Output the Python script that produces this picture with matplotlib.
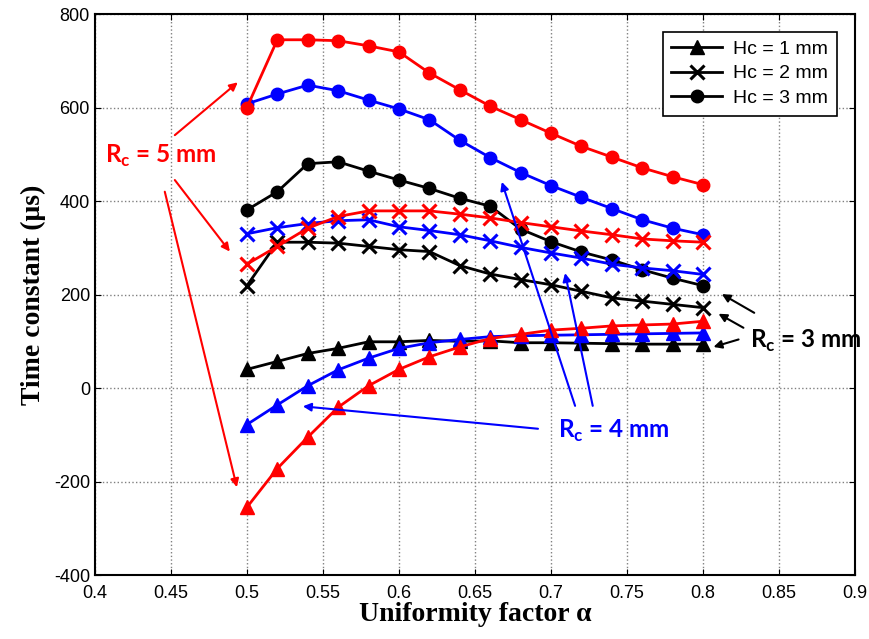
import numpy as np
import matplotlib
matplotlib.use('Agg')
import matplotlib.pyplot as plt

plt.rcParams['font.family'] = ['Liberation Sans', 'DejaVu Sans']
plt.rcParams['mathtext.fontset'] = 'custom'
plt.rcParams['mathtext.bf'] = 'Lato:bold'
plt.rcParams['mathtext.rm'] = 'Lato:bold'
plt.rcParams['axes.unicode_minus'] = False

# Factor de uniformidad
alpha = [0.50, 0.52, 0.54, 0.56, 0.58, 0.60, 0.62, 0.64,
         0.66, 0.68, 0.70, 0.72, 0.74, 0.76, 0.78, 0.80]

# Rc = 3 mm (negro)
rc3_h1 = [40, 57, 74, 85, 99, 99, 102, 100, 101, 97, 97, 96, 95, 94, 94, 94]
rc3_h2 = [219, 312, 312, 310, 303, 296, 292, 262, 244, 232, 221, 207, 193, 186, 179, 172]
rc3_h3 = [381, 420, 480, 484, 464, 445, 427, 406, 389, 340, 313, 291, 274, 253, 235, 219]

# Rc = 4 mm (azul)
rc4_h1 = [-78, -36, 5, 39, 64, 85, 97, 104, 110, 112, 113, 114, 115, 116, 117, 118]
rc4_h2 = [330, 343, 352, 358, 360, 345, 337, 328, 315, 301, 289, 278, 265, 257, 251, 243]
rc4_h3 = [608, 629, 648, 636, 616, 597, 574, 530, 493, 461, 433, 408, 384, 360, 342, 328]

# Rc = 5 mm (rojo)
rc5_h1 = [-255, -172, -105, -41, 5, 40, 67, 88, 106, 115, 124, 128, 133, 135, 137, 143]
rc5_h2 = [265, 303, 342, 367, 379, 379, 379, 372, 364, 354, 345, 336, 328, 319, 315, 312]
rc5_h3 = [600, 745, 745, 743, 732, 719, 674, 638, 603, 574, 545, 517, 494, 471, 452, 435]

fig = plt.figure(figsize=(8.7, 6.39), dpi=100)
ax = fig.add_axes([0.109, 0.100, 0.874, 0.878])

series = [
    ('k', rc3_h1, rc3_h2, rc3_h3),
    ('b', rc4_h1, rc4_h2, rc4_h3),
    ('r', rc5_h1, rc5_h2, rc5_h3),
]
for color, h1, h2, h3 in series:
    ax.plot(alpha, h1, '-^', color=color, lw=2.0, ms=10.5)
    ax.plot(alpha, h2, '-x', color=color, lw=2.0, ms=10, mew=2.2)
    ax.plot(alpha, h3, '-o', color=color, lw=2.0, ms=9)

# Leyenda (solo negro)
l1, = ax.plot([], [], 'k-^', lw=2.0, ms=10.5)
l2, = ax.plot([], [], 'k-x', lw=2.0, ms=10, mew=2.2)
l3, = ax.plot([], [], 'k-o', lw=2.0, ms=9)
leg = ax.legend([l1, l2, l3], ['Hc = 1 mm', 'Hc = 2 mm', 'Hc = 3 mm'],
                loc='upper right', bbox_to_anchor=(0.989, 0.986), fontsize=14,
                fancybox=False, framealpha=1, edgecolor='k', handlelength=2.6,
                borderpad=0.45, labelspacing=0.35, handletextpad=0.6)
leg.get_frame().set_linewidth(1.2)

ax.set_xlim(0.4, 0.9)
ax.set_ylim(-400, 800)
ax.set_xticks(np.arange(0.4, 0.91, 0.05))
ax.set_xticklabels(['0.4', '0.45', '0.5', '0.55', '0.6', '0.65', '0.7',
                    '0.75', '0.8', '0.85', '0.9'])
ax.set_yticks(np.arange(-400, 801, 200))
ax.tick_params(direction='in', top=True, right=True, labelsize=13, length=4)
ax.tick_params(axis='x', pad=7)
for lab in ax.get_xticklabels():
    lab.set_fontsize(13)
    lab.set_stretch('condensed')
ax.grid(True, color='#808080', ls=':', lw=1.0)
for s in ax.spines.values():
    s.set_linewidth(1.5)

ax.set_xlabel('Uniformity factor α', family='Liberation Serif', fontweight='bold',
              fontsize=20, labelpad=0)
ax.set_ylabel('Time constant (μs)', family='Liberation Serif', fontweight='bold',
              fontsize=20, labelpad=6)

# Anotaciones
def flecha(xy, xytext, color):
    ax.annotate('', xy=xy, xytext=xytext,
                arrowprops=dict(arrowstyle='-|>', color=color, lw=1.5,
                                mutation_scale=12, shrinkA=0, shrinkB=0))

ax.text(0.4434, 496, r'R$_\mathbf{c}$ = 5 mm', color='r', fontsize=17.5,
        fontweight='bold', family='Lato', ha='center', va='center')
flecha((0.494, 654), (0.4526, 541), 'r')
flecha((0.4888, 292), (0.4526, 445), 'r')
flecha((0.4934, -212), (0.446, 420), 'r')

ax.text(0.7414, -92, r'R$_\mathbf{c}$ = 4 mm', color='b', fontsize=17.5,
        fontweight='bold', family='Lato', ha='center', va='center')
flecha((0.5368, -39), (0.6914, -87), 'b')
flecha((0.6676, 441), (0.7158, -38), 'b')
flecha((0.7092, 246), (0.7274, -38), 'b')

ax.text(0.8678, 100, r'R$_\mathbf{c}$ = 3 mm', color='k', fontsize=17.5,
        fontweight='bold', family='Lato', ha='center', va='center')
flecha((0.8123, 201), (0.8336, 161), 'k')
flecha((0.8101, 159), (0.8265, 129), 'k')
flecha((0.8068, 88), (0.8233, 104), 'k')

fig.savefig('out.png', dpi=100)
